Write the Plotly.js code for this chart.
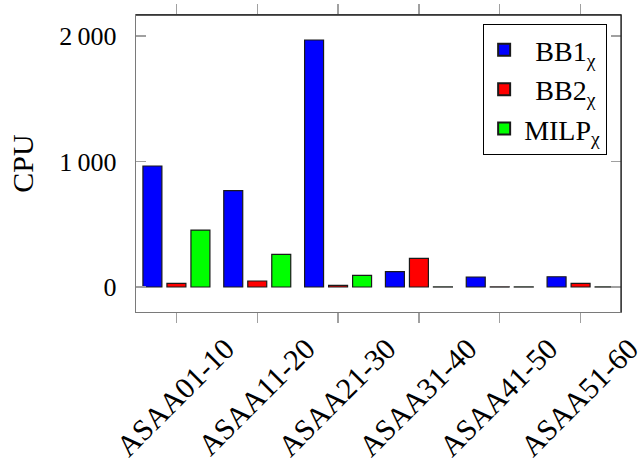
<!DOCTYPE html>
<html>
<head>
<meta charset="utf-8">
<script src="https://cdn.plot.ly/plotly-3.0.1.min.js"></script>
<style>html,body{margin:0;padding:0;background:#fff;}#chart{width:643px;height:471px;}</style>
</head>
<body>
<div id="chart"></div>
<script>
const categories = ["ASAA01-10", "ASAA11-20", "ASAA21-30", "ASAA31-40", "ASAA41-50", "ASAA51-60"];
const bb1 = [964, 768, 1968, 122, 80, 82];
const bb2 = [29, 48, 13, 228, 1, 29];
const milp = [454, 260, 93, 1, 1, 1];
const seriesNames = ["\u2009\u2009BB1<sub>\u03c7</sub>", "\u2009\u2009BB2<sub>\u03c7</sub>", "MILP<sub>\u03c7</sub>"];
const yTickVals = [0, 1000, 2000];
const yTickText = ["0", "1\u2009000", "2\u2009000"];

const serif = "'Liberation Serif', 'Times New Roman', serif";
const colors = ["#0000ff", "#ff0000", "#00ff00"];
const values = [bb1, bb2, milp];

const traces = values.map((v, i) => ({
  type: "bar",
  x: categories,
  y: v,
  name: seriesNames[i],
  marker: {color: colors[i], line: {color: "#1a1a1a", width: 1.2}},
  hoverinfo: "skip"
}));

const layout = {
  width: 643,
  height: 471,
  margin: {l: 136, r: 22, t: 15, b: 159, pad: 0},
  paper_bgcolor: "#ffffff",
  plot_bgcolor: "#ffffff",
  barmode: "group",
  bargap: 0.109,
  bargroupgap: 0.21,
  showlegend: true,
  font: {family: serif, color: "#000"},
  xaxis: {
    type: "category",
    range: [-0.5, 5.5],
    showgrid: false,
    zeroline: false,
    showline: true,
    linecolor: "#7a7a7a",
    linewidth: 1.3,
    mirror: "ticks",
    ticks: "outside",
    ticklen: 10,
    tickcolor: "#a0a0a0",
    tickwidth: 1.2,
    tickangle: -45,
    ticklabelshift: 49,
    ticklabelstandoff: -4,
    tickfont: {family: serif, size: 30, color: "#000"},
    automargin: false
  },
  yaxis: {
    range: [-199, 2167],
    showgrid: false,
    zeroline: false,
    showline: true,
    linecolor: "#7a7a7a",
    linewidth: 1.3,
    mirror: "ticks",
    ticks: "inside",
    ticklen: 10,
    tickcolor: "#a0a0a0",
    tickwidth: 1.2,
    tickvals: yTickVals,
    ticktext: yTickText,
    tickfont: {family: serif, size: 26, color: "#000"},
    ticklabelstandoff: 13,
    title: {text: "CPU", font: {family: serif, size: 30, color: "#000"}, standoff: 16},
    automargin: false
  },
  legend: {
    x: 0.971, y: 0.970, xanchor: "right", yanchor: "top",
    bordercolor: "#000", borderwidth: 1.2,
    bgcolor: "#fff",
    font: {family: serif, size: 28, color: "#000"},
    tracegroupgap: 0,
    itemwidth: 30,
    itemsizing: "constant"
  },
  shapes: [
    {type: "line", xref: "paper", yref: "paper", x0: 0, x1: 1, y0: 1, y1: 1, line: {color: "#222", width: 1.3}, layer: "above"},
    {type: "line", xref: "paper", yref: "paper", x0: 1, x1: 1, y0: 0, y1: 1, line: {color: "#222", width: 1.3}, layer: "above"}
  ]
};

Plotly.newPlot("chart", traces, layout, {displayModeBar: false, staticPlot: true});
</script>
</body>
</html>
